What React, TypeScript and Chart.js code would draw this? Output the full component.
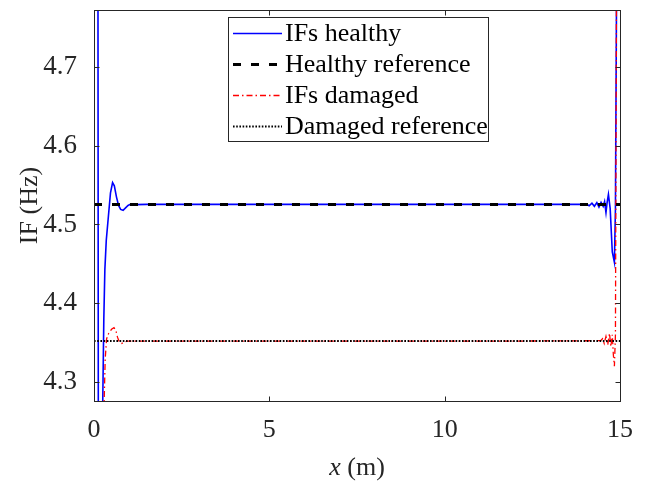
import React, { useEffect, useRef } from "react";
import { Chart, registerables } from "chart.js";

Chart.register(...registerables);

// ---- data ----
const healthyX = [0.0, 0.06, 0.1, 0.13, 0.18, 0.22, 0.25, 0.28, 0.31, 0.35, 0.41, 0.47, 0.53, 0.58, 0.64, 0.7, 0.76, 0.83, 0.9, 0.97, 1.05, 1.2, 1.5, 4.0, 8.0, 12.0, 14.05, 14.12, 14.2, 14.27, 14.34, 14.4, 14.46, 14.52, 14.56, 14.6, 14.63, 14.67, 14.72, 14.78, 14.84, 14.87, 14.9, 14.94, 15.0];
const healthyY = [7.0, 6.2, 5.5, 3.9, 3.75, 4.05, 4.276, 4.38, 4.443, 4.48, 4.51, 4.54, 4.553, 4.549, 4.535, 4.524, 4.519, 4.518, 4.521, 4.524, 4.5258, 4.5251, 4.5254, 4.5254, 4.5254, 4.5254, 4.5254, 4.5236, 4.527, 4.523, 4.5276, 4.522, 4.528, 4.523, 4.529, 4.515, 4.527, 4.538, 4.52, 4.465, 4.452, 4.52, 4.78, 5.3, 6.0];

const damagedX = [0.0, 0.2, 0.27, 0.29, 0.32, 0.36, 0.42, 0.5, 0.57, 0.62, 0.67, 0.72, 0.79, 0.86, 0.95, 1.1, 4.0, 8.0, 12.0, 14.45, 14.5, 14.55, 14.6, 14.65, 14.7, 14.74, 14.78, 14.81, 14.84, 14.87, 14.9, 15.0];
const damagedY = [2.5, 3.6, 4.2, 4.276, 4.33, 4.355, 4.362, 4.367, 4.369, 4.366, 4.357, 4.351, 4.349, 4.3505, 4.352, 4.352, 4.352, 4.352, 4.352, 4.3525, 4.355, 4.349, 4.358, 4.347, 4.362, 4.345, 4.36, 4.335, 4.32, 4.36, 4.8, 6.0];

const refX = [0, 15];
const healthyRef = [4.5254, 4.5254];
const damagedRef = [4.352, 4.352];

const xTicks = [0, 5, 10, 15];
const yTicks = [4.3, 4.4, 4.5, 4.6, 4.7];
const xRange = [0, 15];
const yRange = [4.276, 4.772];

const legendLabels = ["IFs healthy", "Healthy reference", "IFs damaged", "Damaged reference"];
const xTitleItalic = "x";
const xTitleRest = " (m)";
const yTitle = "IF (Hz)";

const FONT = "'Liberation Serif', 'Times New Roman', serif";
const AXIS_COLOR = "#262626";

const STYLES = [
  { color: "#0000ff", width: 1.6, dash: [] as number[] },
  { color: "#000000", width: 3, dash: [8, 10] },
  { color: "#ff0000", width: 1.3, dash: [6, 3, 1.5, 3] },
  { color: "#000000", width: 2, dash: [1.6, 1.6] },
];

const toPts = (xs: number[], ys: number[]) => xs.map((x, i) => ({ x, y: ys[i] }));

const matlabPlugin = {
  id: "matlabDecor",
  afterDraw(chart: any) {
    const ctx = chart.ctx as CanvasRenderingContext2D;
    const a = chart.chartArea;
    const xs = chart.scales.x;
    const ys = chart.scales.y;
    ctx.save();
    ctx.strokeStyle = AXIS_COLOR;
    ctx.lineWidth = 1;
    ctx.setLineDash([]);
    const L = Math.round(a.left) + 0.5;
    const R = Math.round(a.right) + 0.5;
    const T = Math.round(a.top) + 0.5;
    const B = Math.round(a.bottom) + 0.5;
    ctx.strokeRect(L, T, R - L, B - T);
    const tl = 5;
    ctx.beginPath();
    xTicks.forEach((v) => {
      const px = Math.round(xs.getPixelForValue(v)) + 0.5;
      ctx.moveTo(px, B);
      ctx.lineTo(px, B - tl);
      ctx.moveTo(px, T);
      ctx.lineTo(px, T + tl);
    });
    yTicks.forEach((v) => {
      const py = Math.round(ys.getPixelForValue(v)) + 0.5;
      ctx.moveTo(L, py);
      ctx.lineTo(L + tl, py);
      ctx.moveTo(R, py);
      ctx.lineTo(R - tl, py);
    });
    ctx.stroke();

    // axis titles
    ctx.fillStyle = AXIS_COLOR;
    ctx.textBaseline = "alphabetic";
    ctx.textAlign = "left";
    ctx.font = `26px ${FONT}`;
    const restW = ctx.measureText(xTitleRest).width;
    ctx.font = `italic 26px ${FONT}`;
    const itW = ctx.measureText(xTitleItalic).width;
    const cx = (a.left + a.right) / 2;
    const startX = cx - (restW + itW) / 2;
    ctx.fillText(xTitleItalic, startX, 475);
    ctx.font = `26px ${FONT}`;
    ctx.fillText(xTitleRest, startX + itW, 475);

    ctx.save();
    ctx.translate(37, (a.top + a.bottom) / 2);
    ctx.rotate(-Math.PI / 2);
    ctx.textAlign = "center";
    ctx.fillText(yTitle, 0, 0);
    ctx.restore();

    // legend
    const bx = 228.5, by = 17.5, bw = 260, bh = 124;
    ctx.fillStyle = "#ffffff";
    ctx.fillRect(bx, by, bw, bh);
    ctx.strokeStyle = AXIS_COLOR;
    ctx.lineWidth = 1;
    ctx.strokeRect(bx, by, bw, bh);
    const rowY = [33, 64, 95, 126];
    STYLES.forEach((s, i) => {
      const y = rowY[i] + 0.5;
      ctx.save();
      ctx.strokeStyle = s.color;
      ctx.lineWidth = s.width;
      ctx.setLineDash(s.dash);
      ctx.beginPath();
      ctx.moveTo(233, y);
      ctx.lineTo(282, y);
      ctx.stroke();
      ctx.restore();
      ctx.fillStyle = "#000000";
      ctx.font = `26px ${FONT}`;
      ctx.textBaseline = "middle";
      ctx.textAlign = "left";
      ctx.fillText(legendLabels[i], 285, rowY[i] + 1);
    });
    ctx.restore();
  },
};

export default function App() {
  const ref = useRef<HTMLCanvasElement | null>(null);
  useEffect(() => {
    document.body.style.margin = "0";
    const canvas = ref.current!;
    const series = [toPts(healthyX, healthyY), toPts(refX, healthyRef), toPts(damagedX, damagedY), toPts(refX, damagedRef)];
    const orders = [3, 0, 2, 1];
    const chart = new Chart(canvas, {
      type: "line",
      data: {
        datasets: series.map((data, i) => ({
          label: legendLabels[i],
          data,
          borderColor: STYLES[i].color,
          borderWidth: STYLES[i].width,
          borderDash: STYLES[i].dash,
          pointRadius: 0,
          tension: 0,
          order: orders[i],
        })),
      },
      options: {
        responsive: false,
        animation: false,
        devicePixelRatio: 1,
        layout: { padding: { top: 10, right: 35, left: 0, bottom: 0 } },
        plugins: { legend: { display: false }, tooltip: { enabled: false } },
        scales: {
          x: {
            type: "linear",
            min: xRange[0],
            max: xRange[1],
            grid: { display: false },
            border: { display: false },
            afterBuildTicks: (axis: any) => {
              axis.ticks = xTicks.map((v) => ({ value: v }));
            },
            afterFit: (scale: any) => {
              scale.height = 81;
              scale.paddingLeft = 0;
              scale.paddingRight = 0;
            },
            ticks: {
              padding: 6,
              maxRotation: 0,
              autoSkip: false,
              color: AXIS_COLOR,
              font: { family: FONT, size: 26 },
              callback: (v: any) => String(v),
            },
          },
          y: {
            type: "linear",
            min: yRange[0],
            max: yRange[1],
            grid: { display: false },
            border: { display: false },
            afterBuildTicks: (axis: any) => {
              axis.ticks = yTicks.map((v) => ({ value: v }));
            },
            afterFit: (scale: any) => {
              scale.width = 94;
              scale.paddingTop = 0;
              scale.paddingBottom = 0;
            },
            ticks: {
              padding: 9,
              autoSkip: false,
              color: AXIS_COLOR,
              font: { family: FONT, size: 27 },
              callback: (v: any) => Number(v).toFixed(1),
            },
          },
        },
      },
      plugins: [matlabPlugin],
    });
    return () => chart.destroy();
  }, []);
  return (
    <div style={{ position: "absolute", left: 0, top: 0, width: 655, height: 482, background: "#fff" }}>
      <canvas ref={ref} width={655} height={482} style={{ display: "block" }} />
    </div>
  );
}
